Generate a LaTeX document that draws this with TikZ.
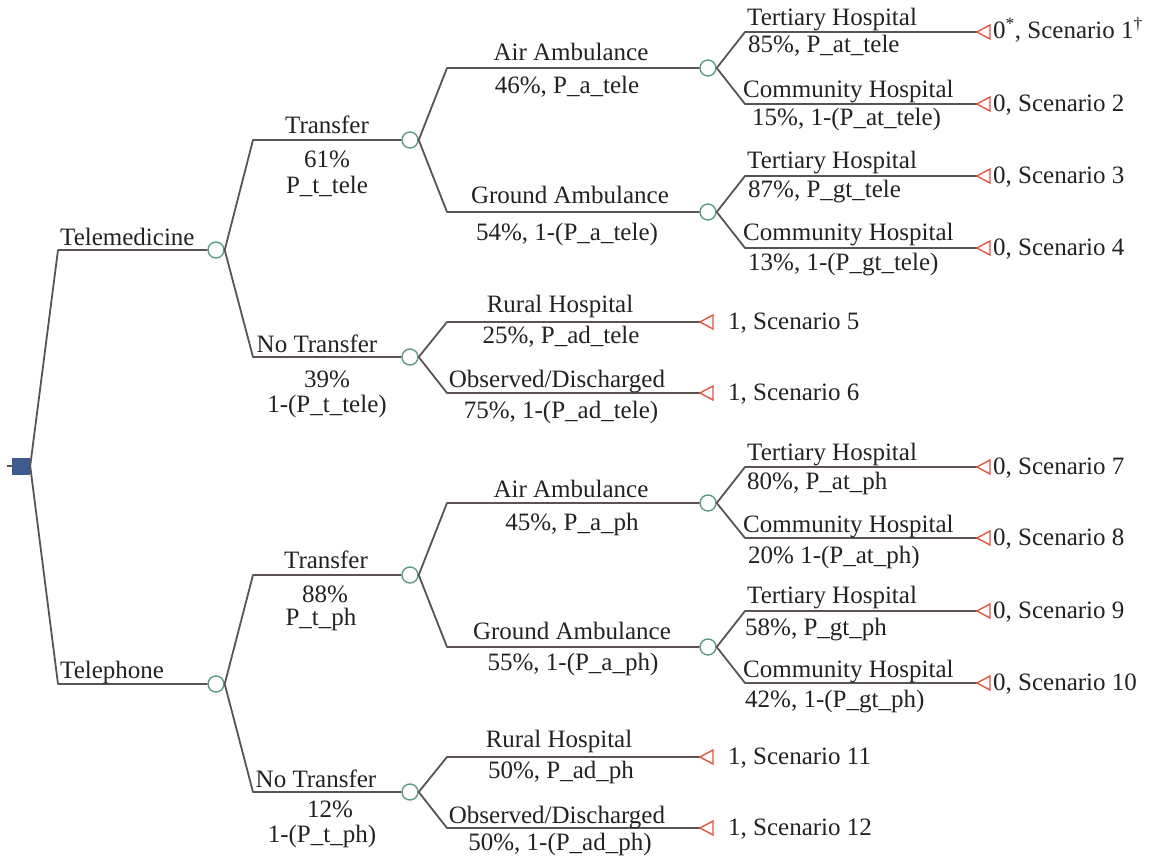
\documentclass[tikz,border=0pt]{standalone}
\usepackage{fontspec}
\setmainfont{Liberation Serif}
\definecolor{lc}{HTML}{5B5350}
\definecolor{cc}{HTML}{5E9A8A}
\definecolor{tc}{HTML}{E2553F}
\definecolor{dc}{HTML}{3E5B8F}
\definecolor{txt}{HTML}{222222}
\begin{document}
\begin{tikzpicture}[x=1pt,y=-1pt,
  br/.style={draw=lc, line width=1.8pt, line join=round},
  chance/.style={circle, draw=cc, fill=white, line width=1.4pt, minimum size=16pt, inner sep=0pt},
  dec/.style={rectangle, fill=dc, minimum width=18pt, minimum height=17pt, inner sep=0pt},
  term/.style={draw=tc, line width=1.4pt, fill=white, line join=miter},
  lbl/.style={anchor=base west, inner sep=0pt, font=\fontsize{25}{28}\selectfont, text=txt},
  lblc/.style={anchor=base, inner sep=0pt, font=\fontsize{25}{28}\selectfont, text=txt}]
\useasboundingbox (0,0) rectangle (1162,859);

% ---------- nodes ----------
\node[dec] (root) at (21,466) {};
\coordinate (stub) at (7,466);
\node[chance] (tele) at (216,250) {};
\node[chance] (ph) at (216,684) {};
\node[chance] (tT) at (410,140) {};
\node[chance] (tN) at (410,357) {};
\node[chance] (pT) at (410,575) {};
\node[chance] (pN) at (410,792) {};
\node[chance] (tA) at (708,68) {};
\node[chance] (tG) at (708,212) {};
\node[chance] (pA) at (708,503) {};
\node[chance] (pG) at (708,647) {};

% terminal tips
\coordinate (e1) at (977,32);
\coordinate (e2) at (977,104);
\coordinate (e3) at (977,176);
\coordinate (e4) at (977,248);
\coordinate (e5) at (700,322);
\coordinate (e6) at (700,393);
\coordinate (e7) at (977,467);
\coordinate (e8) at (977,538);
\coordinate (e9) at (977,611);
\coordinate (e10) at (977,683);
\coordinate (e11) at (700,757);
\coordinate (e12) at (700,828);

% ---------- connectors ----------
\draw[lc, line width=1.2pt] (stub) -- (root.west);
\draw[br] (root.east) -- (58,0 |- tele) -- (tele.west);
\draw[br] (root.east) -- (58,0 |- ph) -- (ph.west);

\draw[br] (tele.east) -- (253,0 |- tT) -- (tT.west);
\draw[br] (tele.east) -- (253,0 |- tN) -- (tN.west);
\draw[br] (ph.east) -- (253,0 |- pT) -- (pT.west);
\draw[br] (ph.east) -- (253,0 |- pN) -- (pN.west);

\draw[br] (tT.east) -- (447,0 |- tA) -- (tA.west);
\draw[br] (tT.east) -- (447,0 |- tG) -- (tG.west);
\draw[br] (tN.east) -- (447,0 |- e5) -- (e5);
\draw[br] (tN.east) -- (447,0 |- e6) -- (e6);
\draw[br] (pT.east) -- (447,0 |- pA) -- (pA.west);
\draw[br] (pT.east) -- (447,0 |- pG) -- (pG.west);
\draw[br] (pN.east) -- (447,0 |- e11) -- (e11);
\draw[br] (pN.east) -- (447,0 |- e12) -- (e12);

\draw[br] (tA.east) -- (745,0 |- e1) -- (e1);
\draw[br] (tA.east) -- (745,0 |- e2) -- (e2);
\draw[br] (tG.east) -- (745,0 |- e3) -- (e3);
\draw[br] (tG.east) -- (745,0 |- e4) -- (e4);
\draw[br] (pA.east) -- (745,0 |- e7) -- (e7);
\draw[br] (pA.east) -- (745,0 |- e8) -- (e8);
\draw[br] (pG.east) -- (745,0 |- e9) -- (e9);
\draw[br] (pG.east) -- (745,0 |- e10) -- (e10);

% terminal triangles
\foreach \t in {e1,e2,e3,e4,e5,e6,e7,e8,e9,e10,e11,e12}
  \draw[term] (\t) -- ++(13,-7) -- ++(0,14) -- cycle;

% ---------- labels ----------
\node[lbl] (lTele) at (60,245) {Telemedicine};
\node[lbl] (lPh) at (60,678) {Telephone};

\node[lblc] (l1) at (327,133) {Transfer};
\node[lblc] (l2) at (327,167) {61\%};
\node[lblc] (l3) at (327,193) {P\_t\_tele};
\node[lblc] (l4) at (317,352) {No Transfer};
\node[lblc] (l5) at (327,387) {39\%};
\node[lblc] (l6) at (327,412) {1-(P\_t\_tele)};

\node[lblc] (l7) at (326,568) {Transfer};
\node[lblc] (l8) at (325,602) {88\%};
\node[lblc] (l9) at (321,625) {P\_t\_ph};
\node[lblc] (l10) at (316,787) {No Transfer};
\node[lblc] (l11) at (330,817) {12\%};
\node[lblc] (l12) at (322,842) {1-(P\_t\_ph)};

\node[lblc] (m1) at (571,60) {Air Ambulance};
\node[lblc] (m2) at (567,93) {46\%, P\_a\_tele};
\node[lblc] (m3) at (570,203) {Ground Ambulance};
\node[lblc] (m4) at (567,240) {54\%, 1-(P\_a\_tele)};
\node[lblc] (m5) at (560,312) {Rural Hospital};
\node[lblc] (m6) at (561,343) {25\%, P\_ad\_tele};
\node[lblc] (m7) at (557,387) {Observed/Discharged};
\node[lblc] (m8) at (561,418) {75\%, 1-(P\_ad\_tele)};

\node[lblc] (m9) at (571,497) {Air Ambulance};
\node[lblc] (m10) at (572,530) {45\%, P\_a\_ph};
\node[lblc] (m11) at (572,639) {Ground Ambulance};
\node[lblc] (m12) at (573,670) {55\%, 1-(P\_a\_ph)};
\node[lblc] (m13) at (559,747) {Rural Hospital};
\node[lblc] (m14) at (561,778) {50\%, P\_ad\_ph};
\node[lblc] (m15) at (557,823) {Observed/Discharged};
\node[lblc] (m16) at (560,850) {50\%, 1-(P\_ad\_ph)};

\node[lbl] (h1) at (747,26) {Tertiary Hospital};
\node[lbl] (h2) at (748,53) {85\%, P\_at\_tele};
\node[lbl] (h3) at (743,97) {Community Hospital};
\node[lbl] (h4) at (752,125) {15\%, 1-(P\_at\_tele)};
\node[lbl] (h5) at (747,168) {Tertiary Hospital};
\node[lbl] (h6) at (748,197) {87\%, P\_gt\_tele};
\node[lbl] (h7) at (743,240) {Community Hospital};
\node[lbl] (h8) at (748,270) {13\%, 1-(P\_gt\_tele)};

\node[lbl] (h9) at (747,460) {Tertiary Hospital};
\node[lbl] (h10) at (747,489) {80\%, P\_at\_ph};
\node[lbl] (h11) at (743,532) {Community Hospital};
\node[lbl] (h12) at (748,563) {20\% 1-(P\_at\_ph)};
\node[lbl] (h13) at (747,603) {Tertiary Hospital};
\node[lbl] (h14) at (745,635) {58\%, P\_gt\_ph};
\node[lbl] (h15) at (743,677) {Community Hospital};
\node[lbl] (h16) at (745,707) {42\%, 1-(P\_gt\_ph)};

% outcomes
\node[lbl] (s1) at (993,39) {0\textsuperscript{*}, Scenario 1\textsuperscript{\textdagger}};
\node[lbl] (s2) at (993,111) {0, Scenario 2};
\node[lbl] (s3) at (993,183) {0, Scenario 3};
\node[lbl] (s4) at (993,255) {0, Scenario 4};
\node[lbl] (s5) at (728,329) {1, Scenario 5};
\node[lbl] (s6) at (728,400) {1, Scenario 6};
\node[lbl] (s7) at (993,474) {0, Scenario 7};
\node[lbl] (s8) at (993,545) {0, Scenario 8};
\node[lbl] (s9) at (993,618) {0, Scenario 9};
\node[lbl] (s10) at (993,690) {0, Scenario 10};
\node[lbl] (s11) at (728,764) {1, Scenario 11};
\node[lbl] (s12) at (728,835) {1, Scenario 12};
\end{tikzpicture}
\end{document}
